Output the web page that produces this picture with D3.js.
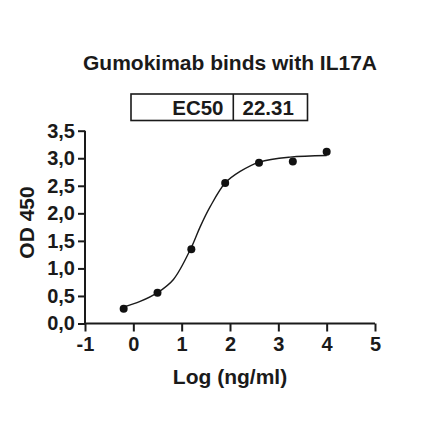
<!DOCTYPE html>
<html>
<head>
<meta charset="utf-8">
<script src="https://cdn.jsdelivr.net/npm/d3@7"></script>
<style>
  body { margin: 0; background: #fff; }
  text { font-family: "Liberation Sans", Arial, sans-serif; font-weight: bold; fill: #1a1a1a; }
</style>
</head>
<body>
<div id="chart"></div>
<script>
// measured points (log concentration vs OD 450)
const logConc = [-0.2, 0.5, 1.2, 1.9, 2.6, 3.3, 4.0];
const od450 = [0.27, 0.56, 1.35, 2.55, 2.92, 2.94, 3.12];

// fitted curve
const fitX = [-0.2, 0.14, 0.5, 0.83, 1.2, 1.38, 1.59, 1.9, 2.21, 2.61, 3.24, 4.0];
const fitY = [0.30, 0.40, 0.56, 0.80, 1.38, 1.75, 2.12, 2.55, 2.76, 2.93, 3.02, 3.05];

const xTicks = [-1, 0, 1, 2, 3, 4, 5];
const yTicks = [0, 0.5, 1, 1.5, 2, 2.5, 3, 3.5];
const tableCells = ["EC50", "22.31"];

const W = 440, H = 441;
const svg = d3.select("#chart").append("svg")
  .attr("width", W).attr("height", H);

const x = d3.scaleLinear().domain([-1, 5]).range([85, 375]);
const y = d3.scaleLinear().domain([0, 3.5]).range([323.5, 130.7]);

const comma = d3.formatLocale({decimal: ",", thousands: ".", grouping: [3], currency: ["", ""]}).format(".1f");
const plainInt = d => String(d); // hyphen minus, like the original

// title
svg.append("text")
  .attr("x", 230).attr("y", 70)
  .attr("text-anchor", "middle")
  .style("font-size", "21px")
  .text("Gumokimab binds with IL17A");

// EC50 table
const tbl = svg.append("g");
tbl.append("rect")
  .attr("x", 131).attr("y", 94).attr("width", 176.5).attr("height", 26.5)
  .attr("fill", "none").attr("stroke", "#1a1a1a").attr("stroke-width", 1.6);
tbl.append("line")
  .attr("x1", 233.3).attr("x2", 233.3).attr("y1", 94).attr("y2", 120.5)
  .attr("stroke", "#1a1a1a").attr("stroke-width", 1.6);
tbl.append("text")
  .attr("x", 223.5).attr("y", 114.5).attr("text-anchor", "end")
  .style("font-size", "20.5px").text(tableCells[0]);
tbl.append("text")
  .attr("x", 242.5).attr("y", 114.5)
  .style("font-size", "20.5px").text(tableCells[1]);

// axes
const gx = svg.append("g")
  .attr("transform", "translate(0," + y(0) + ")")
  .call(d3.axisBottom(x).tickValues(xTicks).tickSize(8).tickPadding(5).tickFormat(plainInt));
const gy = svg.append("g")
  .attr("transform", "translate(" + x(-1) + ",0)")
  .call(d3.axisLeft(y).tickValues(yTicks).tickSize(7).tickPadding(3).tickFormat(comma));

[gx, gy].forEach(g => {
  g.select(".domain").attr("stroke", "#1a1a1a").attr("stroke-width", 2);
  g.selectAll(".tick line").attr("stroke", "#1a1a1a").attr("stroke-width", 2);
  g.selectAll(".tick text").style("font-size", "20px").attr("fill", "#1a1a1a");
});
gx.select(".domain").attr("d", "M" + x(-1) + ",0H" + x(5));
gy.select(".domain").attr("d", "M0," + y(0) + "V" + y(3.5));

// axis titles
svg.append("text")
  .attr("x", 230).attr("y", 384)
  .attr("text-anchor", "middle")
  .style("font-size", "21px")
  .text("Log (ng/ml)");
svg.append("text")
  .attr("transform", "translate(34," + 222.5 + ") rotate(-90)")
  .attr("text-anchor", "middle")
  .style("font-size", "21px")
  .text("OD 450");

// fitted curve
const line = d3.line()
  .x(d => x(d[0])).y(d => y(d[1]))
  .curve(d3.curveCatmullRom.alpha(0.5));
svg.append("path")
  .datum(d3.zip(fitX, fitY))
  .attr("d", line)
  .attr("fill", "none").attr("stroke", "#1a1a1a").attr("stroke-width", 1.4);

// points
svg.selectAll("circle.pt")
  .data(d3.zip(logConc, od450))
  .enter().append("circle")
  .attr("class", "pt")
  .attr("cx", d => x(d[0])).attr("cy", d => y(d[1]))
  .attr("r", 4).attr("fill", "#111");
</script>
</body>
</html>
